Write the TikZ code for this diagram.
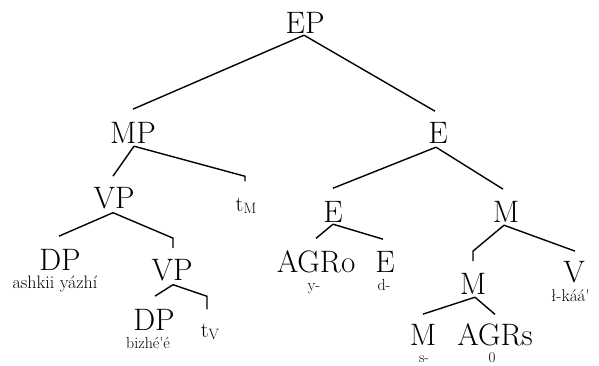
\documentclass[tikz,border=0pt]{standalone}
\usetikzlibrary{calc}
\begin{document}
\begin{tikzpicture}[x=1pt,y=-1pt,
  lab/.style={anchor=base,inner sep=0pt,font=\fontsize{31}{31}\selectfont},
  sm/.style={anchor=base,inner sep=0pt,font=\fontsize{16}{16}\selectfont},
  tr/.style={anchor=base,inner sep=0pt,font=\fontsize{22}{22}\selectfont},
  br/.style={line width=1.4pt}]
\useasboundingbox (0,0) rectangle (599,365);
% labels
\node[lab] (EP) at (305,33) {EP};
\node[lab] (MP) at (133,143) {MP};
\node[lab] (E1) at (438,143) {E};
\node[lab] (VP1) at (114,208) {VP};
\node[tr] (tM) at (246,211) {t{\fontsize{15}{15}\selectfont\raisebox{-2pt}{M}}};
\node[lab] (E2) at (333,222) {E};
\node[lab] (M1) at (506,222) {M};
\node[lab] (DP1) at (60,270) {DP};
\node[sm,font=\fontsize{18}{18}\selectfont] (ash) at (55,288) {ashkii yázhí};
\node[lab] (VP2) at (172,280) {VP};
\node[lab] (AGRo) at (316,272) {AGRo};
\node[sm] (yy) at (314,290) {y-};
\node[lab] (E3) at (385,272) {E};
\node[sm] (dd) at (384,290) {d-};
\node[lab] (M2) at (473,294) {M};
\node[lab] (V) at (574,282) {V};
\node[sm,anchor=base west,font=\fontsize{17}{17}\selectfont] (lk) at (551,301) {ł-káá\textquotesingle};
\node[lab] (DP2) at (154,330) {DP};
\node[sm] (biz) at (148,348) {bizhé\textquotesingle é};
\node[tr] (tV) at (210,337) {t{\fontsize{15}{15}\selectfont\raisebox{-2pt}{V}}};
\node[lab] (M3) at (423,345) {M};
\node[lab] (AGRs) at (495,345) {AGRs};
\node[sm,font=\fontsize{15}{15}\selectfont] (ss) at (424,362) {s-};
\node[sm,font=\fontsize{15}{15}\selectfont] (zz) at (492,362) {0};
% branches
\draw[br] ($(EP.south)+(-1,2)$) -- ($(MP.north)+(0,-12.5)$);
\draw[br] ($(EP.south)+(-1,2)$) -- ($(E1.north)+(-3,-10.5)$);
\draw[br] ($(MP.south)+(1,3)$) -- ($(VP1.north)+(-1,-10.5)$);
\draw[br] ($(MP.south)+(1,3)$) -- ($(tM.north)+(-1,-21)$) -- ($(tM.north)+(-1,-16)$);
\draw[br] ($(E1.south)+(-2,4)$) -- ($(E2.north)+(0,-12.5)$);
\draw[br] ($(E1.south)+(-2,4)$) -- ($(M1.north)+(-3,-11.5)$);
\draw[br] ($(VP1.south)+(-1,4)$) -- ($(DP1.north)+(-1,-12.5)$);
\draw[br] ($(VP1.south)+(-1,4)$) -- ($(VP2.north)+(1,-20.5)$) -- ($(VP2.north)+(1,-10.5)$);
\draw[br] ($(VP2.south)+(1,4)$) -- ($(DP2.north)+(1,-12.5)$);
\draw[br] ($(VP2.south)+(1,4)$) -- ($(tV.north)+(-3,-27)$) -- ($(tV.north)+(-3,-14)$);
\draw[br] ($(E2.south)+(0,2)$) -- ($(AGRo.north)+(0,-11.5)$);
\draw[br] ($(E2.south)+(0,2)$) -- ($(E3.north)+(-2,-11.5)$);
\draw[br] ($(M1.south)+(-2,3)$) -- ($(M2.north)+(0,-21.5)$) -- ($(M2.north)+(0,-11.5)$);
\draw[br] ($(M1.south)+(-2,3)$) -- ($(V.north)+(1,-9.5)$);
\draw[br] ($(M2.south)+(2,3)$) -- ($(M3.north)+(0,-9.5)$);
\draw[br] ($(M2.south)+(2,3)$) -- ($(AGRs.north)+(0,-8.5)$);
\end{tikzpicture}
\end{document}
